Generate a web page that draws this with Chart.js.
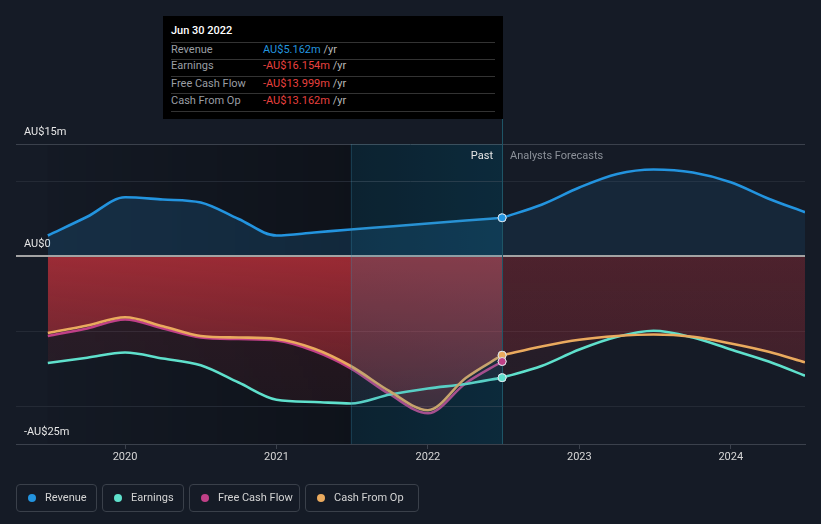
<!DOCTYPE html>
<html><head><meta charset="utf-8">
<script src="https://cdn.jsdelivr.net/npm/chart.js@4/dist/chart.umd.min.js"></script>
<style>
html,body{margin:0;padding:0;background:#151b26;width:821px;height:524px;overflow:hidden;font-family:Roboto,"Noto Sans",sans-serif;}
#wrap{position:relative;width:821px;height:524px;}
canvas{position:absolute;left:0;top:0;}
.tt{position:absolute;left:163px;top:16px;width:340px;height:103px;background:#000;font-size:11px;}
.tt .s{position:absolute;line-height:14px;white-space:nowrap;}
.tt .hr{position:absolute;left:8px;width:324px;height:1px;background:#333;}
.lab{color:#9a9ea4;left:8px;}
.val{left:100px;}
.yr{color:#b8b8b8;}
.neg{color:#e8413f;}
.pos{color:#2394df;}
.leg{position:absolute;top:484px;height:28px;box-sizing:border-box;border:1px solid #3a404a;border-radius:4px;font-size:11px;color:#d4d4d4;}
.leg i{position:absolute;left:11px;top:9px;width:8px;height:8px;border-radius:50%;}
.leg span{position:absolute;left:28px;top:6px;line-height:14px;white-space:nowrap;}
.note{position:absolute;top:149px;font-size:11px;line-height:14px;white-space:nowrap;}
</style></head>
<body><div id="wrap">
<canvas id="c" width="821" height="524"></canvas>
<div class="note" style="right:328px;color:#e6e6e6;">Past</div>
<div class="note" style="left:510px;color:#8c9199;">Analysts Forecasts</div>
<div class="tt">
  <div class="s" style="left:8px;top:8px;color:#fff;font-weight:500;">Jun 30 2022</div>
  <div class="hr" style="top:26px"></div>
  <div class="s lab" style="top:27px">Revenue</div><div class="s val" style="top:27px"><span class="pos">AU$5.162m</span> <span class="yr">/yr</span></div>
  <div class="hr" style="top:43px"></div>
  <div class="s lab" style="top:43px">Earnings</div><div class="s val" style="top:43px"><span class="neg">-AU$16.154m</span> <span class="yr">/yr</span></div>
  <div class="hr" style="top:60px"></div>
  <div class="s lab" style="top:61px">Free Cash Flow</div><div class="s val" style="top:61px"><span class="neg">-AU$13.999m</span> <span class="yr">/yr</span></div>
  <div class="hr" style="top:77px"></div>
  <div class="s lab" style="top:78px">Cash From Op</div><div class="s val" style="top:78px"><span class="neg">-AU$13.162m</span> <span class="yr">/yr</span></div>
  <div class="hr" style="top:95px"></div>
</div>
<div class="leg" style="left:16px;width:81px;"><i style="background:#2394df"></i><span>Revenue</span></div>
<div class="leg" style="left:102px;width:82px;"><i style="background:#5fe0cc"></i><span>Earnings</span></div>
<div class="leg" style="left:189px;width:111px;"><i style="background:#c04087"></i><span>Free Cash Flow</span></div>
<div class="leg" style="left:305px;width:114px;"><i style="background:#eaaa5e"></i><span>Cash From Op</span></div>
</div>
<script>
const pastDates = [2019.49, 2019.75, 2020.0, 2020.25, 2020.5, 2020.75, 2021.0, 2021.25, 2021.49, 2021.75, 2022.0, 2022.25, 2022.49];
const forecastDates = [2022.49, 2022.75, 2023.0, 2023.25, 2023.49, 2023.75, 2024.0, 2024.25, 2024.49];
const revenuePast = [2.8, 5.3, 7.9, 7.6, 7.2, 5.0, 2.8, 3.2, 3.6, 4.0, 4.4, 4.8, 5.162];
const revenueForecast = [5.162, 6.9, 9.2, 11.0, 11.6, 11.2, 9.9, 7.7, 5.9];
const earningsPast = [-14.2, -13.5, -12.8, -13.6, -14.5, -16.8, -19.1, -19.4, -19.6, -18.4, -17.6, -17.0, -16.154];
const earningsForecast = [-16.154, -14.6, -12.4, -10.7, -9.9, -10.8, -12.4, -14.0, -15.9];
const fcfPast = [-10.6, -9.6, -8.4, -9.6, -10.8, -11.0, -11.2, -12.6, -14.9, -18.4, -20.9, -16.9, -13.999];
const cfoPast = [-10.2, -9.2, -8.1, -9.3, -10.6, -10.8, -11.0, -12.3, -14.6, -18.0, -20.5, -16.2, -13.162];
const cfoForecast = [-13.162, -12.0, -11.1, -10.6, -10.4, -10.7, -11.6, -12.7, -14.1];
const xTicks = [2020, 2021, 2022, 2023, 2024];
const yGridValues = [15, 10, 0, -10, -20, -25];
const yLabels = {'15': 'AU$15m', '0': 'AU$0', '-25': '-AU$25m'};
const highlightStart = 2021.49;
const xMin = 2019.28, xMax = 2024.49, yMin = -25, yMax = 15;

const pts = (xs, ys) => xs.map((x, i) => ({x, y: ys[i]}));

function redGrad(a0, a1) {
  return (c) => {
    const ch = c.chart; if (!ch.chartArea) return 'rgba(200,50,60,' + a0 + ')';
    const y = ch.scales.y;
    const g = ch.ctx.createLinearGradient(0, y.getPixelForValue(0), 0, y.getPixelForValue(yMin));
    g.addColorStop(0, 'rgba(200,50,60,' + a0 + ')');
    g.addColorStop(1, 'rgba(200,50,60,' + a1 + ')');
    return g;
  };
}

function lineDs(data, color, fill, bg, endPoint) {
  const n = data.length;
  return {
    data, borderColor: color, borderWidth: 2.6, fill: fill, backgroundColor: bg,
    cubicInterpolationMode: 'monotone',
    pointRadius: (c) => (endPoint && c.dataIndex === n - 1) ? 4 : 0,
    pointBackgroundColor: color, pointBorderColor: '#dfe6ec', pointBorderWidth: 1,
    endPoint
  };
}

const datasets = [
  lineDs(pts(pastDates, revenuePast), '#2394df', 'origin', 'rgba(35,148,223,0.17)', true),
  lineDs(pts(forecastDates, revenueForecast), '#2394df', 'origin', 'rgba(35,148,223,0.10)', false),
  lineDs(pts(pastDates, cfoPast), '#eaaa5e', 'origin', redGrad(0.71, 0.2), true),
  lineDs(pts(forecastDates, cfoForecast), '#eaaa5e', 'origin', redGrad(0.22, 0.12), false),
  lineDs(pts(pastDates, earningsPast), '#5fe0cc', 'origin', redGrad(0.15, 0.07), true),
  lineDs(pts(forecastDates, earningsForecast), '#5fe0cc', 'origin', redGrad(0.12, 0.08), false),
  lineDs(pts(pastDates, fcfPast), '#c04087', false, 'rgba(0,0,0,0)', true)
];

const regions = {
  id: 'regions',
  beforeDraw(chart) {
    const {ctx, chartArea: a, scales: {x}} = chart;
    const xs = x.getPixelForValue(pastDates[0]);
    const xh = x.getPixelForValue(highlightStart);
    const xe = x.getPixelForValue(pastDates[pastDates.length - 1]);
    ctx.save();
    let g = ctx.createLinearGradient(xs, 0, xh, 0);
    g.addColorStop(0, 'rgba(0,0,0,0.04)'); g.addColorStop(1, 'rgba(0,0,0,0.3)');
    ctx.fillStyle = g; ctx.fillRect(xs, a.top, xh - xs, a.bottom - a.top);
    g = ctx.createLinearGradient(xh, 0, xe, 0);
    g.addColorStop(0, 'rgb(0,8,18)'); g.addColorStop(1, 'rgb(0,18,32)');
    ctx.fillStyle = g; ctx.fillRect(xh, a.top, xe - xh, a.bottom - a.top);
    ctx.restore();
  },
  afterDatasetsDraw(chart) {
    const {ctx, chartArea: a, scales: {x, y}} = chart;
    const xh = x.getPixelForValue(highlightStart);
    const xe = x.getPixelForValue(pastDates[pastDates.length - 1]);
    const y0 = y.getPixelForValue(0);
    ctx.save();
    ctx.strokeStyle = '#a3a3a3'; ctx.lineWidth = 2;
    ctx.beginPath(); ctx.moveTo(a.left, y0 - 0.5); ctx.lineTo(a.right, y0 - 0.5); ctx.stroke();
    ctx.fillStyle = 'rgba(60,140,170,0.2)';
    ctx.fillRect(xh, a.top, xe - xh, a.bottom - a.top);
    ctx.strokeStyle = 'rgba(60,140,170,0.25)'; ctx.lineWidth = 1;
    ctx.beginPath(); ctx.moveTo(Math.round(xh) + 0.5, a.top); ctx.lineTo(Math.round(xh) + 0.5, a.bottom); ctx.stroke();
    ctx.strokeStyle = '#1e5566';
    ctx.beginPath(); ctx.moveTo(Math.round(xe) + 0.5, 119); ctx.lineTo(Math.round(xe) + 0.5, a.bottom); ctx.stroke();
    ctx.restore();
    chart.data.datasets.forEach((ds, i) => {
      if (ds.endPoint) {
        const meta = chart.getDatasetMeta(i);
        meta.data[meta.data.length - 1].draw(ctx, a);
      }
    });
  }
};

Chart.defaults.font.family = 'Roboto, "Noto Sans", sans-serif';
Chart.defaults.font.size = 11;

new Chart(document.getElementById('c'), {
  type: 'line',
  data: {datasets},
  plugins: [regions],
  options: {
    responsive: false, animation: false, devicePixelRatio: 1, events: [],
    layout: {padding: {left: 16, right: 16, top: 144, bottom: 60}},
    plugins: {legend: {display: false}, tooltip: {enabled: false}, filler: {drawTime: 'beforeDatasetsDraw'}},
    scales: {
      x: {
        type: 'linear', min: xMin, max: xMax,
        afterBuildTicks: (s) => { s.ticks = xTicks.map(v => ({value: v})); },
        afterFit: (s) => { s.height = 20; },
        grid: {drawOnChartArea: false, drawTicks: true, tickLength: 5, color: '#3b414c'},
        border: {display: true, color: '#3b414c'},
        ticks: {color: '#d6d6d6', padding: 2, autoSkip: false, maxRotation: 0, callback: (v) => String(v)}
      },
      y: {
        type: 'linear', min: yMin, max: yMax,
        afterBuildTicks: (s) => { s.ticks = yGridValues.map(v => ({value: v})); },
        afterFit: (s) => { s.width = 0; },
        grid: {drawTicks: false, color: (c) => {
          const v = c.tick.value;
          if (v === 0) return 'rgba(0,0,0,0)';
          if (v === yMax || v === yMin) return '#3b414c';
          return '#242a35';
        }},
        border: {display: false},
        ticks: {mirror: true, padding: 8, labelOffset: -12, color: '#e6e6e6',
          callback: (v) => yLabels[String(v)] || ''}
      }
    }
  }
});
</script>
</body></html>
